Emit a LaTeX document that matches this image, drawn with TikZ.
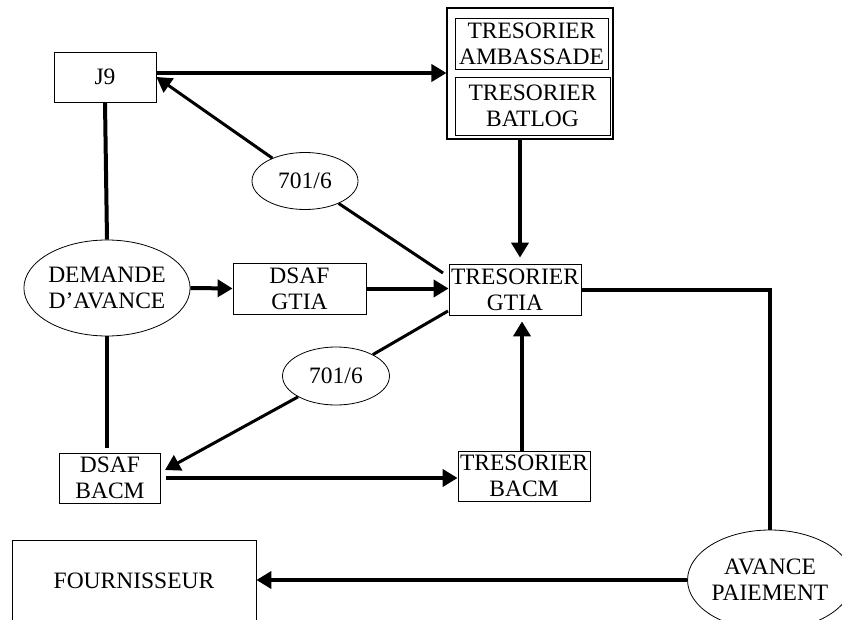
\documentclass[tikz,border=0pt]{standalone}
\usepackage{fontspec}
\setmainfont{Liberation Serif}
\usetikzlibrary{arrows.meta,shapes.geometric}

\begin{document}
\begin{tikzpicture}[x=1pt,y=-1pt,
	every node/.style={font=\fontsize{23.5}{26}\selectfont, align=center, inner sep=0pt},
	box/.style={draw, thick, fill=white},
	oval/.style={draw, thick, ellipse, fill=white},
	line/.style={line width=4pt},
	diag/.style={line width=3pt},
	arr/.style={line width=4pt, -{Triangle[length=15pt,width=17pt]}},
	]
	\useasboundingbox (0,0) rectangle (842,620);
	\clip (0,0) rectangle (842,620);
	% boxes
	\node[box, minimum width=102, minimum height=50] (j9) at (105,77) {J9};
	\node[draw, line width=1.1pt, minimum width=166, minimum height=131] (outer) at (530,73.5) {};
	\node[box, minimum width=153, minimum height=51] (amb) at (531.5,43.5) {TRESORIER\\AMBASSADE};
	\node[box, minimum width=155, minimum height=58] (batlog) at (532.5,106) {TRESORIER\\BATLOG};
	\node[box, minimum width=132, minimum height=51] (gtia) at (515,289.5) {TRESORIER\\GTIA};
	\node[box, minimum width=133, minimum height=51] (dsafg) at (299.5,288.5) {DSAF\\GTIA};
	\node[box, minimum width=101, minimum height=50] (dsafb) at (110,478) {DSAF\\BACM};
	\node[box, minimum width=132, minimum height=50] (tresb) at (524,476) {TRESORIER\\BACM};
	\node[box, minimum width=244, minimum height=82] (four) at (134,581) {FOURNISSEUR};
	% ovals
	\node[oval, minimum width=148, minimum height=96] (dem) at (107,288) {DEMANDE\\D’AVANCE};
	\node[oval, minimum width=106, minimum height=57] (ea) at (305,181) {701/6};
	\node[oval, minimum width=107, minimum height=58] (eb) at (336,376) {701/6};
	\node[oval, minimum width=144, minimum height=100] (avance) at (770,580) {AVANCE\\PAIEMENT};
	% connectors
	\coordinate (ga) at (443,273);
	\coordinate (gb) at (448,311);
	\coordinate (bt) at (165,470);
	\coordinate (tb) at (520,139.5);
	\draw[arr] ([yshift=4pt]j9.east) -- ([yshift=4pt]j9.east -| outer.west);
	\draw[diag] (ga) -- (ea);
	\draw[diag, -{Triangle[length=15pt,width=17pt]}] (ea) -- (j9.east);
	\draw[arr, shorten >=6pt] (tb) -- (tb |- gtia.north);
	\draw[line] (j9.south) -- (dem.north);
	\draw[line, shorten >=5pt] (dem.south) -- (dem.south |- dsafb.north);
	\draw[arr] (dem.east) -- (dsafg.west);
	\draw[arr] (dsafg.east) -- (dsafg.east -| gtia.west);
	\draw[diag] (gb) -- (eb);
	\draw[diag, -{Triangle[length=15pt,width=17pt]}] (eb) -- (bt);
	\draw[arr, shorten <=5pt] (dsafb.east) -- (dsafb.east -| tresb.west);
	\draw[arr, shorten >=6pt] ([xshift=-2pt]tresb.north) -- ([xshift=-2pt]tresb.north |- gtia.south);
	\draw[line] (gtia.east) -| (avance.north);
	\draw[arr] (avance.west) -- (avance.west -| four.east);
\end{tikzpicture}
\end{document}
